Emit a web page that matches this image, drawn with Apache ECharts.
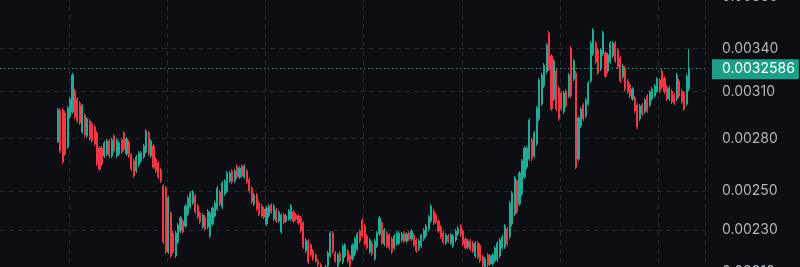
<!DOCTYPE html>
<html><head><meta charset="utf-8">
<script src="https://cdn.jsdelivr.net/npm/echarts@6/dist/echarts.min.js"></script>
<style>html,body{margin:0;padding:0;background:#0c0e13;overflow:hidden}#c{width:800px;height:267px}</style>
</head><body><div id="c"></div>
<script>
// each candle: [open, close, low, high]
const candles = [
[0.002780,0.002978,0.002774,0.002991],[0.002978,0.002726,0.002714,0.002991],[0.002978,0.002662,0.002650,0.002991],[0.002959,0.002708,0.002697,0.002972],
[0.002750,0.002991,0.002738,0.003004],[0.002934,0.003049,0.002921,0.003062],[0.002966,0.003211,0.002953,0.003225],[0.003102,0.002934,0.002921,0.003116],
[0.003049,0.002908,0.002896,0.003062],[0.003023,0.002896,0.002883,0.003036],[0.002840,0.003004,0.002828,0.003017],[0.002946,0.002822,0.002810,0.002959],
[0.002816,0.002921,0.002804,0.002934],[0.002908,0.002798,0.002786,0.002921],[0.002889,0.002786,0.002774,0.002902],[0.002871,0.002768,0.002756,0.002883],
[0.002834,0.002650,0.002639,0.002846],[0.002744,0.002622,0.002611,0.002756],[0.002744,0.002650,0.002639,0.002756],[0.002697,0.002774,0.002685,0.002786],
[0.002709,0.002786,0.002697,0.002798],[0.002786,0.002697,0.002685,0.002798],[0.002697,0.002792,0.002685,0.002804],[0.002816,0.002726,0.002714,0.002828],
[0.002697,0.002792,0.002685,0.002804],[0.002709,0.002774,0.002697,0.002786],[0.002792,0.002720,0.002709,0.002804],[0.002834,0.002738,0.002726,0.002846],
[0.002709,0.002798,0.002697,0.002810],[0.002780,0.002697,0.002685,0.002792],[0.002703,0.002622,0.002611,0.002714],[0.002668,0.002583,0.002572,0.002680],
[0.002611,0.002691,0.002600,0.002703],[0.002645,0.002714,0.002633,0.002726],[0.002668,0.002714,0.002656,0.002726],[0.002691,0.002756,0.002680,0.002768],
[0.002720,0.002846,0.002709,0.002858],[0.002834,0.002709,0.002697,0.002846],[0.002697,0.002786,0.002685,0.002798],[0.002756,0.002633,0.002622,0.002768],
[0.002680,0.002611,0.002600,0.002691],[0.002656,0.002577,0.002566,0.002668],[0.002617,0.002555,0.002544,0.002628],[0.002528,0.002240,0.002231,0.002539],
[0.002517,0.002193,0.002184,0.002528],[0.002193,0.002464,0.002184,0.002474],[0.002385,0.002174,0.002165,0.002395],[0.002284,0.002193,0.002184,0.002294],
[0.002174,0.002284,0.002165,0.002294],[0.002240,0.002324,0.002231,0.002334],[0.002294,0.002360,0.002284,0.002370],[0.002344,0.002289,0.002280,0.002354],
[0.002319,0.002421,0.002309,0.002432],[0.002380,0.002464,0.002370,0.002474],[0.002416,0.002490,0.002406,0.002501],[0.002437,0.002496,0.002426,0.002506],
[0.002474,0.002390,0.002380,0.002485],[0.002421,0.002365,0.002354,0.002432],[0.002385,0.002339,0.002329,0.002395],[0.002314,0.002375,0.002304,0.002385],
[0.002365,0.002304,0.002294,0.002375],[0.002314,0.002395,0.002304,0.002406],[0.002270,0.002385,0.002260,0.002395],[0.002329,0.002411,0.002319,0.002421],
[0.002370,0.002437,0.002360,0.002448],[0.002406,0.002517,0.002395,0.002528],[0.002496,0.002432,0.002421,0.002506],[0.002416,0.002544,0.002406,0.002555],
[0.002485,0.002555,0.002474,0.002566],[0.002501,0.002600,0.002490,0.002611],[0.002555,0.002600,0.002544,0.002611],[0.002611,0.002550,0.002539,0.002622],
[0.002555,0.002611,0.002544,0.002622],[0.002639,0.002577,0.002566,0.002650],[0.002577,0.002628,0.002566,0.002639],[0.002639,0.002583,0.002572,0.002650],
[0.002577,0.002639,0.002566,0.002650],[0.002611,0.002550,0.002539,0.002622],[0.002561,0.002501,0.002490,0.002572],[0.002517,0.002443,0.002432,0.002528],
[0.002432,0.002480,0.002421,0.002490],[0.002480,0.002406,0.002395,0.002490],[0.002437,0.002380,0.002370,0.002448],[0.002421,0.002370,0.002360,0.002432],
[0.002406,0.002365,0.002354,0.002416],[0.002329,0.002411,0.002319,0.002421],[0.002370,0.002421,0.002360,0.002432],[0.002426,0.002390,0.002380,0.002437],
[0.002354,0.002421,0.002344,0.002432],[0.002400,0.002344,0.002334,0.002411],[0.002344,0.002390,0.002334,0.002400],[0.002289,0.002375,0.002280,0.002385],
[0.002375,0.002339,0.002329,0.002385],[0.002344,0.002370,0.002334,0.002380],[0.002354,0.002395,0.002344,0.002406],[0.002354,0.002421,0.002344,0.002432],
[0.002390,0.002344,0.002334,0.002400],[0.002375,0.002354,0.002344,0.002385],[0.002370,0.002334,0.002324,0.002380],[0.002360,0.002294,0.002284,0.002370],
[0.002334,0.002216,0.002207,0.002344],[0.002198,0.002250,0.002188,0.002260],[0.002245,0.002146,0.002137,0.002255],[0.002226,0.002179,0.002170,0.002235],
[0.002198,0.002160,0.002151,0.002207],[0.002179,0.002151,0.002142,0.002188],[0.002151,0.002133,0.002123,0.002160],[0.002133,0.002114,0.002105,0.002142],
[0.002078,0.002105,0.002069,0.002114],[0.002087,0.002123,0.002078,0.002133],[0.002128,0.002188,0.002119,0.002198],[0.002174,0.002284,0.002165,0.002294],
[0.002284,0.002193,0.002184,0.002294],[0.002188,0.002151,0.002142,0.002198],[0.002128,0.002179,0.002119,0.002188],[0.002188,0.002151,0.002142,0.002198],
[0.002146,0.002221,0.002137,0.002231],[0.002174,0.002226,0.002165,0.002235],[0.002198,0.002151,0.002142,0.002207],[0.002174,0.002128,0.002119,0.002184],
[0.002160,0.002226,0.002151,0.002235],[0.002184,0.002255,0.002174,0.002265],[0.002207,0.002280,0.002198,0.002289],[0.002294,0.002245,0.002235,0.002304],
[0.002349,0.002270,0.002260,0.002360],[0.002319,0.002231,0.002221,0.002329],[0.002270,0.002212,0.002203,0.002280],[0.002193,0.002250,0.002184,0.002260],
[0.002235,0.002184,0.002174,0.002245],[0.002160,0.002245,0.002151,0.002255],[0.002221,0.002284,0.002212,0.002294],[0.002280,0.002360,0.002270,0.002370],
[0.002334,0.002235,0.002226,0.002344],[0.002231,0.002299,0.002221,0.002309],[0.002284,0.002221,0.002212,0.002294],[0.002275,0.002212,0.002203,0.002284],
[0.002255,0.002193,0.002184,0.002265],[0.002212,0.002270,0.002203,0.002280],[0.002231,0.002284,0.002221,0.002294],[0.002235,0.002284,0.002226,0.002294],
[0.002250,0.002280,0.002240,0.002289],[0.002284,0.002245,0.002235,0.002294],[0.002245,0.002280,0.002235,0.002289],[0.002284,0.002255,0.002245,0.002294],
[0.002255,0.002294,0.002245,0.002304],[0.002275,0.002226,0.002216,0.002284],[0.002250,0.002198,0.002188,0.002260],[0.002207,0.002245,0.002198,0.002255],
[0.002221,0.002275,0.002212,0.002280],[0.002255,0.002299,0.002245,0.002309],[0.002270,0.002319,0.002260,0.002329],[0.002304,0.002365,0.002294,0.002375],
[0.002344,0.002421,0.002334,0.002432],[0.002395,0.002334,0.002324,0.002406],[0.002375,0.002339,0.002329,0.002385],[0.002344,0.002294,0.002284,0.002354],
[0.002314,0.002265,0.002255,0.002324],[0.002284,0.002240,0.002231,0.002294],[0.002235,0.002275,0.002226,0.002284],[0.002270,0.002245,0.002235,0.002280],
[0.002235,0.002275,0.002226,0.002284],[0.002221,0.002270,0.002212,0.002280],[0.002250,0.002294,0.002240,0.002304],[0.002280,0.002309,0.002270,0.002319],
[0.002319,0.002275,0.002265,0.002329],[0.002294,0.002231,0.002221,0.002304],[0.002255,0.002212,0.002203,0.002265],[0.002216,0.002245,0.002207,0.002255],
[0.002245,0.002207,0.002198,0.002255],[0.002235,0.002198,0.002188,0.002245],[0.002174,0.002235,0.002165,0.002245],[0.002235,0.002170,0.002160,0.002245],
[0.002226,0.002151,0.002142,0.002235],[0.002170,0.002128,0.002119,0.002179],[0.002123,0.002160,0.002114,0.002170],[0.002179,0.002133,0.002123,0.002188],
[0.002137,0.002174,0.002128,0.002184],[0.002137,0.002179,0.002128,0.002188],[0.002151,0.002212,0.002142,0.002221],[0.002156,0.002235,0.002146,0.002245],
[0.002174,0.002250,0.002165,0.002260],[0.002212,0.002265,0.002203,0.002275],[0.002216,0.002319,0.002207,0.002329],[0.002304,0.002231,0.002221,0.002314],
[0.002265,0.002437,0.002255,0.002448],[0.002329,0.002490,0.002319,0.002501],[0.002380,0.002572,0.002370,0.002583],[0.002555,0.002390,0.002380,0.002566],
[0.002432,0.002600,0.002421,0.002611],[0.002485,0.002668,0.002474,0.002680],[0.002577,0.002744,0.002566,0.002756],[0.002633,0.002744,0.002622,0.002756],
[0.002680,0.002915,0.002668,0.002927],[0.002792,0.002680,0.002668,0.002804],[0.002697,0.002834,0.002685,0.002846],[0.002768,0.002991,0.002756,0.003004],
[0.002921,0.003177,0.002908,0.003190],[0.003017,0.003211,0.003004,0.003225],[0.003136,0.003281,0.003123,0.003296],[0.003232,0.003425,0.003218,0.003440],
[0.003516,0.003246,0.003239,0.003531],[0.003346,0.002985,0.002972,0.003360],[0.003049,0.003310,0.003036,0.003325],[0.003239,0.002985,0.002972,0.003253],
[0.003123,0.002921,0.002908,0.003136],[0.003089,0.002985,0.002972,0.003102],[0.002966,0.003089,0.002953,0.003102],[0.003102,0.003004,0.002991,0.003116],
[0.003069,0.003211,0.003056,0.003225],[0.003403,0.003069,0.003056,0.003418],[0.003184,0.003310,0.003170,0.003325],[0.003225,0.002633,0.002622,0.003239],
[0.002680,0.002927,0.002668,0.002940],[0.002877,0.002985,0.002865,0.002998],[0.003010,0.002921,0.002908,0.003023],[0.002940,0.003043,0.002927,0.003056],
[0.003017,0.003157,0.003004,0.003170],[0.003170,0.003440,0.003157,0.003455],[0.003360,0.003539,0.003346,0.003554],[0.003440,0.003303,0.003289,0.003455],
[0.003389,0.003225,0.003211,0.003403],[0.003253,0.003389,0.003239,0.003403],[0.003360,0.003516,0.003346,0.003531],[0.003368,0.003204,0.003190,0.003382],
[0.003239,0.003353,0.003225,0.003368],[0.003303,0.003440,0.003289,0.003455],[0.003346,0.003440,0.003332,0.003455],[0.003440,0.003310,0.003296,0.003455],
[0.003389,0.003267,0.003253,0.003403],[0.003332,0.003170,0.003157,0.003346],[0.003197,0.003274,0.003184,0.003289],[0.003260,0.003116,0.003102,0.003274],
[0.003170,0.003096,0.003082,0.003184],[0.003143,0.003069,0.003056,0.003157],[0.003049,0.003116,0.003036,0.003129],[0.003056,0.002972,0.002959,0.003069],
[0.003010,0.002871,0.002858,0.003023],[0.002921,0.003004,0.002908,0.003017],[0.003010,0.002953,0.002940,0.003023],[0.002966,0.003043,0.002953,0.003056],
[0.003069,0.002972,0.002959,0.003082],[0.003010,0.003096,0.002998,0.003109],[0.003049,0.003116,0.003036,0.003129],[0.003069,0.003136,0.003056,0.003150],
[0.003102,0.003184,0.003089,0.003197],[0.003177,0.003102,0.003089,0.003190],[0.003239,0.003129,0.003116,0.003253],[0.003190,0.003096,0.003082,0.003204],
[0.003129,0.003049,0.003036,0.003143],[0.003049,0.003123,0.003036,0.003136],[0.003102,0.003030,0.003017,0.003116],[0.003076,0.003023,0.003010,0.003089],
[0.003049,0.003211,0.003036,0.003225],[0.003170,0.003069,0.003056,0.003184],[0.003102,0.003030,0.003017,0.003116],[0.003089,0.002985,0.002972,0.003102],
[0.003017,0.003204,0.003004,0.003218],[0.003116,0.0032586,0.003102,0.003396]
];
const yTicks = [0.0038, 0.0034, 0.0031, 0.0028, 0.0025, 0.0023, 0.0021];
const lastPrice = 0.0032586;

// empty slots before the first and after the last candle (scrolled view)
const leadPad = 23, trailPad = 6;
const empty = ['-', '-', '-', '-'];
const seriesData = [];
const categories = [];
for (let i = 0; i < leadPad; i++) { seriesData.push(empty); categories.push('p' + i); }
candles.forEach((c, i) => { seriesData.push(c); categories.push('c' + i); });
for (let i = 0; i < trailPad; i++) { seriesData.push(empty); categories.push('t' + i); }

const UP = '#22ab94', DOWN = '#f23645';
const GRID = '#252932';
const chart = echarts.init(document.getElementById('c'), null, {renderer: 'canvas'});
chart.setOption({
  animation: false,
  backgroundColor: '#0c0e13',
  axisPointer: {triggerOn: 'none'},
  grid: {left: 0, right: 95, top: -30, bottom: -30, outerBoundsMode: 'none', containLabel: false},
  xAxis: {
    type: 'category', data: categories, boundaryGap: true,
    axisLine: {show: false}, axisTick: {show: false}, axisLabel: {show: false},
    splitLine: {show: true, interval: (i) => i >= 28 && (i - 28) % 40 === 0,
      lineStyle: {color: GRID, type: [5, 4], width: 1}}
  },
  yAxis: {
    type: 'log', logBase: 10, position: 'right',
    min: 0.0019902, max: 0.0040268,
    axisLine: {show: false},
    axisTick: {show: false, customValues: yTicks},
    axisLabel: {customValues: yTicks, formatter: (v) => Number(v).toFixed(5),
      color: '#b2b5be', fontFamily: 'Inter', fontSize: 14, margin: 17, align: 'left'},
    splitLine: {show: true, lineStyle: {color: GRID, type: [5, 4], width: 1}},
    axisPointer: {
      show: true, type: 'line', status: 'show', value: lastPrice, snap: false, triggerTooltip: false,
      lineStyle: {color: UP, type: [1, 3], width: 1},
      label: {show: true, formatter: () => lastPrice.toFixed(7), margin: 7,
        backgroundColor: '#1f9e87', color: '#ffffff', fontFamily: 'Inter', fontSize: 14,
        padding: [2, 4, 2, 10], lineHeight: 16, borderRadius: 0}
    }
  },
  series: [{
    type: 'candlestick',
    data: seriesData,
    barWidth: 1.6,
    itemStyle: {color: UP, color0: DOWN, borderColor: UP, borderColor0: DOWN, borderWidth: 1}
  }]
});
</script>
</body></html>
